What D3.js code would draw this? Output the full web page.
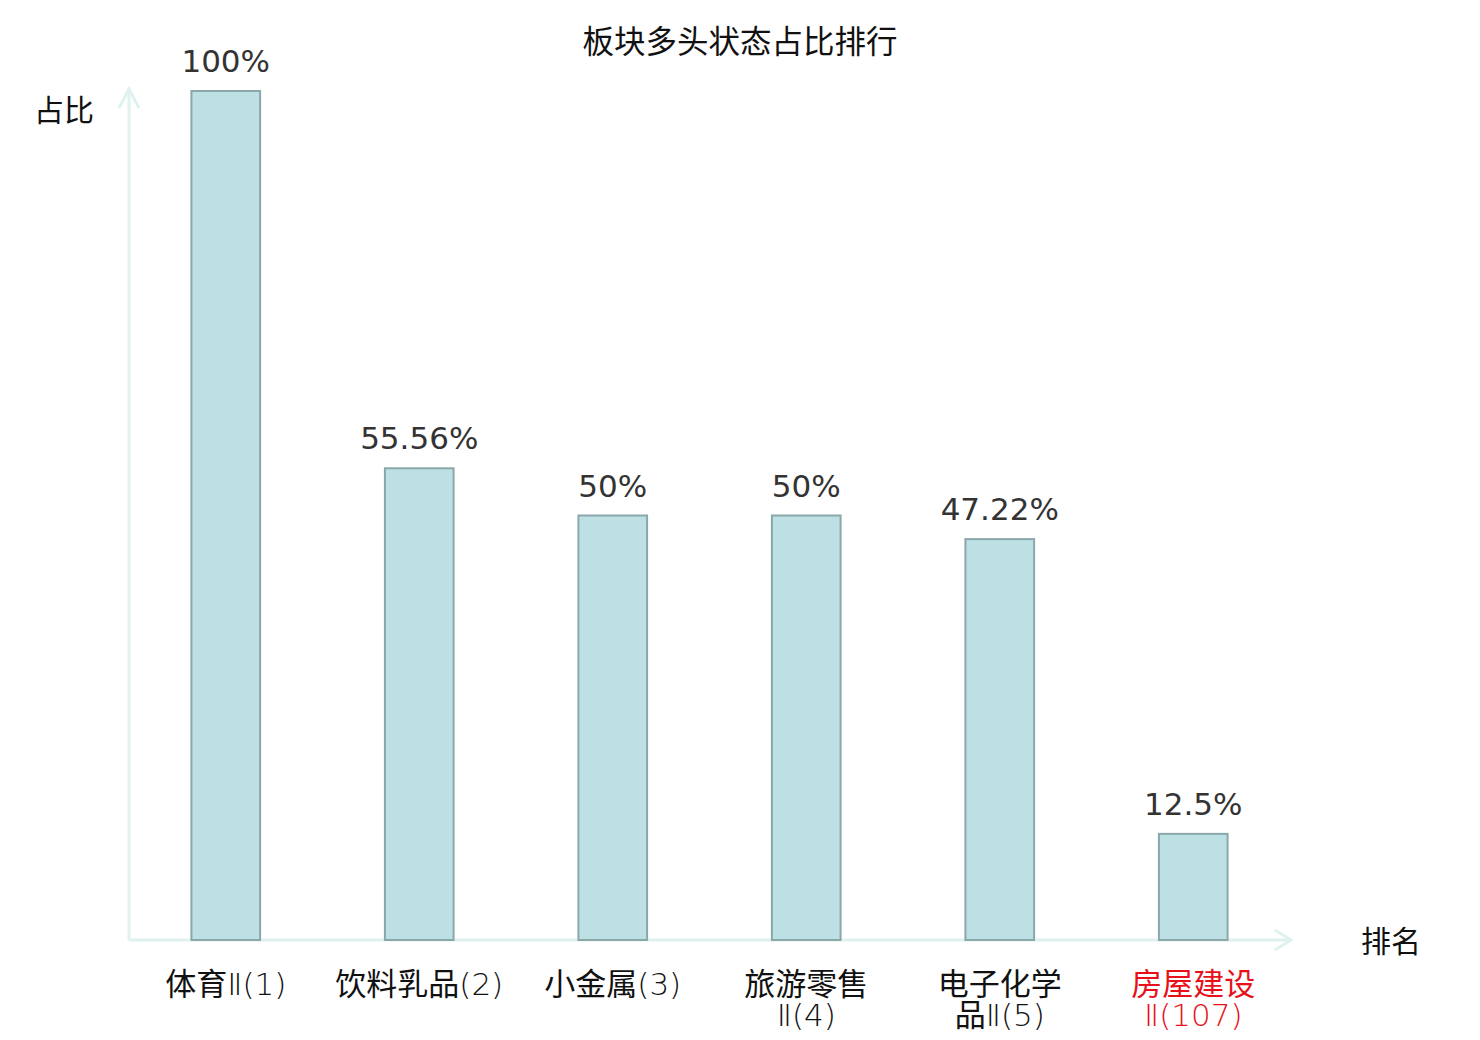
<!DOCTYPE html>
<html>
<head>
<meta charset="utf-8">
<script src="https://cdn.jsdelivr.net/npm/d3@7"></script>
<style>
  body { margin: 0; background: #fff; }
  text { font-family: "Noto Sans CJK SC", "DejaVu Sans", sans-serif; }
</style>
</head>
<body>
<div id="chart"></div>
<script>
var categories = ["体育Ⅱ(1)", "饮料乳品(2)", "小金属(3)", "旅游零售\nⅡ(4)", "电子化学\n品Ⅱ(5)", "房屋建设\nⅡ(107)"]
var values = [100, 55.56, 50, 50, 47.22, 12.5]
var valueLabels = ["100%", "55.56%", "50%", "50%", "47.22%", "12.5%"]
var highlighted = [false, false, false, false, false, true]

var width = 1480, height = 1040
var margin = {left: 129, right: 190, top: 91, bottom: 100}
var baseY = height - margin.bottom   // 940

var svg = d3.select("#chart").append("svg")
    .attr("width", width)
    .attr("height", height)

var x = d3.scaleBand()
    .domain(categories)
    .range([margin.left, width - margin.right])
    .padding(0)

var y = d3.scaleLinear()
    .domain([0, 100])
    .range([baseY, margin.top])

var barW = x.bandwidth() * 0.355
var axisColor = "#dff2ef"

// title
svg.append("text")
    .attr("x", 740)
    .attr("y", 53)
    .attr("text-anchor", "middle")
    .style("font-size", "31.5px")
    .attr("fill", "#111")
    .text("板块多头状态占比排行")

// axes with arrows
var ax = svg.append("g")
    .attr("fill", "none")
    .attr("stroke", axisColor)
    .attr("stroke-width", 3)
ax.append("line")
    .attr("x1", margin.left).attr("y1", baseY)
    .attr("x2", margin.left).attr("y2", margin.top - 2)
ax.append("path")
    .attr("d", "M" + (margin.left - 10) + "," + (margin.top + 17) + "L" + margin.left + "," + (margin.top - 2) + "L" + (margin.left + 10) + "," + (margin.top + 17))
var xEnd = x.range()[1] + 1
ax.append("line")
    .attr("x1", margin.left).attr("y1", baseY)
    .attr("x2", xEnd).attr("y2", baseY)
ax.append("path")
    .attr("d", "M" + (xEnd - 16) + "," + (baseY - 10) + "L" + xEnd + "," + baseY + "L" + (xEnd - 16) + "," + (baseY + 10))

// bars
svg.append("g").selectAll("rect")
    .data(values).enter().append("rect")
    .attr("x", function(d, i) { return x(categories[i]) + x.bandwidth() / 2 - barW / 2 })
    .attr("y", function(d) { return y(d) })
    .attr("width", barW)
    .attr("height", function(d) { return baseY - y(d) })
    .attr("fill", "#bce0e3")
    .attr("stroke", "#8aa8aa")
    .attr("stroke-width", 2)

// value labels
svg.append("g").selectAll("text")
    .data(values).enter().append("text")
    .attr("x", function(d, i) { return x(categories[i]) + x.bandwidth() / 2 })
    .attr("y", function(d) { return y(d) - 19 })
    .attr("text-anchor", "middle")
    .style("font-family", "'DejaVu Sans', sans-serif")
    .style("font-size", "31px")
    .attr("fill", "#333")
    .text(function(d, i) { return valueLabels[i] })

// x tick labels (CJK normal, latin parts light)
var isCJK = function(c) { return /[\u4e00-\u9fff]/.test(c) }
var ticks = svg.append("g").selectAll("text")
    .data(categories).enter().append("text")
    .attr("text-anchor", "middle")
    .style("font-size", "31px")
    .attr("fill", function(d, i) { return highlighted[i] ? "#e8101a" : "#111" })
ticks.each(function(d) {
    var t = d3.select(this)
    var cx = x(d) + x.bandwidth() / 2
    d.split("\n").forEach(function(l, k) {
        var line = t.append("tspan")
            .attr("x", cx)
            .attr("y", 995 + k * 31)
        // split into runs
        var runs = [], cur = "", curC = null
        Array.from(l).forEach(function(c) {
            var cj = isCJK(c)
            if (curC === null || cj === curC) { cur += c }
            else { runs.push([cur, curC]); cur = c }
            curC = cj
        })
        runs.push([cur, curC])
        runs.forEach(function(r, j) {
            var sp = j === 0 ? line : line.append("tspan")
            if (j === 0) {
                sp = line.append("tspan")
            }
            sp.text(r[0])
            if (!r[1]) {
                sp.style("font-family", "'DejaVu Sans', sans-serif")
                  .style("font-weight", 200)
            }
        })
    })
})

// axis names
svg.append("text")
    .attr("x", 34).attr("y", 121)
    .style("font-size", "30px")
    .attr("fill", "#111")
    .text("占比")
svg.append("text")
    .attr("x", 1361).attr("y", 952)
    .style("font-size", "30px")
    .attr("fill", "#111")
    .text("排名")
</script>
</body>
</html>
